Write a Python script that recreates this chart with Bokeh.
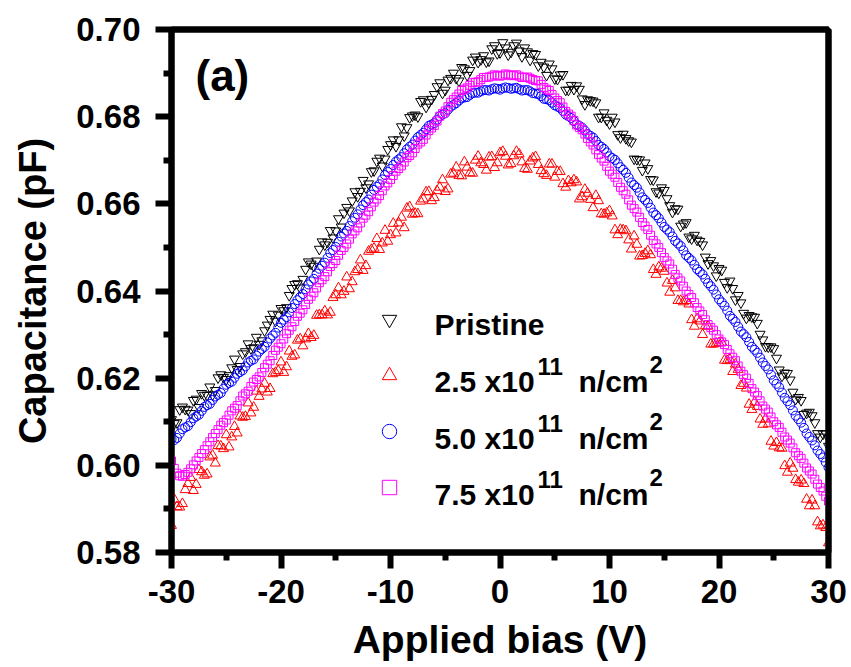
from bokeh.plotting import figure
from bokeh.models import (Range1d, Legend, LegendItem, Label, FixedTicker,
                          NumeralTickFormatter, LinearAxis)
from bokeh.embed import file_html
from bokeh.resources import INLINE

# ---------------- data ----------------
# bias sweep, first pass (every 0.5 V)
bias = [-30.0, -29.5, -29.0, -28.5, -28.0, -27.5, -27.0, -26.5, -26.0, -25.5,
        -25.0, -24.5, -24.0, -23.5, -23.0, -22.5, -22.0, -21.5, -21.0, -20.5,
        -20.0, -19.5, -19.0, -18.5, -18.0, -17.5, -17.0, -16.5, -16.0, -15.5,
        -15.0, -14.5, -14.0, -13.5, -13.0, -12.5, -12.0, -11.5, -11.0, -10.5,
        -10.0, -9.5, -9.0, -8.5, -8.0, -7.5, -7.0, -6.5, -6.0, -5.5,
        -5.0, -4.5, -4.0, -3.5, -3.0, -2.5, -2.0, -1.5, -1.0, -0.5,
        0.0, 0.5, 1.0, 1.5, 2.0, 2.5, 3.0, 3.5, 4.0, 4.5,
        5.0, 5.5, 6.0, 6.5, 7.0, 7.5, 8.0, 8.5, 9.0, 9.5,
        10.0, 10.5, 11.0, 11.5, 12.0, 12.5, 13.0, 13.5, 14.0, 14.5,
        15.0, 15.5, 16.0, 16.5, 17.0, 17.5, 18.0, 18.5, 19.0, 19.5,
        20.0, 20.5, 21.0, 21.5, 22.0, 22.5, 23.0, 23.5, 24.0, 24.5,
        25.0, 25.5, 26.0, 26.5, 27.0, 27.5, 28.0, 28.5, 29.0, 29.5, 30.0]

# bias sweep, in-between points
bias_mid = [-29.75, -29.25, -28.75, -28.25, -27.75, -27.25, -26.75, -26.25, -25.75, -25.25,
            -24.75, -24.25, -23.75, -23.25, -22.75, -22.25, -21.75, -21.25, -20.75, -20.25,
            -19.75, -19.25, -18.75, -18.25, -17.75, -17.25, -16.75, -16.25, -15.75, -15.25,
            -14.75, -14.25, -13.75, -13.25, -12.75, -12.25, -11.75, -11.25, -10.75, -10.25,
            -9.75, -9.25, -8.75, -8.25, -7.75, -7.25, -6.75, -6.25, -5.75, -5.25,
            -4.75, -4.25, -3.75, -3.25, -2.75, -2.25, -1.75, -1.25, -0.75, -0.25,
            0.25, 0.75, 1.25, 1.75, 2.25, 2.75, 3.25, 3.75, 4.25, 4.75,
            5.25, 5.75, 6.25, 6.75, 7.25, 7.75, 8.25, 8.75, 9.25, 9.75,
            10.25, 10.75, 11.25, 11.75, 12.25, 12.75, 13.25, 13.75, 14.25, 14.75,
            15.25, 15.75, 16.25, 16.75, 17.25, 17.75, 18.25, 18.75, 19.25, 19.75,
            20.25, 20.75, 21.25, 21.75, 22.25, 22.75, 23.25, 23.75, 24.25, 24.75,
            25.25, 25.75, 26.25, 26.75, 27.25, 27.75, 28.25, 28.75, 29.25, 29.75]

pristine = [0.6105, 0.6098, 0.6134, 0.6127, 0.6149, 0.6133, 0.6161, 0.6180, 0.6172, 0.6208,
            0.6197, 0.6224, 0.6220, 0.6256, 0.6279, 0.6270, 0.6278, 0.6309, 0.6335, 0.6331,
            0.6360, 0.6362, 0.6406, 0.6417, 0.6427, 0.6467, 0.6457, 0.6496, 0.6506, 0.6539,
            0.6538, 0.6547, 0.6592, 0.6607, 0.6617, 0.6654, 0.6646, 0.6676, 0.6705, 0.6703,
            0.6736, 0.6732, 0.6777, 0.6775, 0.6802, 0.6800, 0.6839, 0.6832, 0.6851, 0.6878,
            0.6861, 0.6888, 0.6888, 0.6913, 0.6895, 0.6930, 0.6925, 0.6940, 0.6928, 0.6963,
            0.6947, 0.6958, 0.6948, 0.6969, 0.6938, 0.6949, 0.6945, 0.6917, 0.6914, 0.6921,
            0.6887, 0.6896, 0.6861, 0.6872, 0.6871, 0.6841, 0.6839, 0.6836, 0.6799, 0.6809,
            0.6784, 0.6788, 0.6752, 0.6750, 0.6742, 0.6702, 0.6677, 0.6681, 0.6655, 0.6625,
            0.6631, 0.6596, 0.6589, 0.6549, 0.6557, 0.6520, 0.6517, 0.6506, 0.6463, 0.6458,
            0.6452, 0.6420, 0.6423, 0.6380, 0.6373, 0.6338, 0.6341, 0.6326, 0.6288, 0.6272,
            0.6268, 0.6219, 0.6212, 0.6196, 0.6152, 0.6149, 0.6120, 0.6114, 0.6073, 0.6072, 0.6044]

pristine_mid = [0.6096, 0.6128, 0.6129, 0.6119, 0.6152, 0.6165, 0.6161, 0.6162, 0.6201, 0.6202,
                0.6206, 0.6244, 0.6227, 0.6261, 0.6268, 0.6294, 0.6286, 0.6322, 0.6347, 0.6345,
                0.6355, 0.6390, 0.6415, 0.6407, 0.6450, 0.6462, 0.6469, 0.6513, 0.6512, 0.6522,
                0.6566, 0.6579, 0.6584, 0.6628, 0.6629, 0.6637, 0.6674, 0.6698, 0.6687, 0.6725,
                0.6747, 0.6747, 0.6756, 0.6798, 0.6804, 0.6835, 0.6822, 0.6840, 0.6869, 0.6854,
                0.6884, 0.6900, 0.6882, 0.6910, 0.6906, 0.6937, 0.6931, 0.6926, 0.6956, 0.6945,
                0.6970, 0.6942, 0.6963, 0.6951, 0.6958, 0.6930, 0.6943, 0.6925, 0.6895, 0.6910,
                0.6886, 0.6897, 0.6861, 0.6863, 0.6863, 0.6828, 0.6837, 0.6832, 0.6799, 0.6792,
                0.6799, 0.6759, 0.6760, 0.6745, 0.6703, 0.6701, 0.6694, 0.6656, 0.6628, 0.6637,
                0.6612, 0.6581, 0.6588, 0.6554, 0.6524, 0.6528, 0.6514, 0.6478, 0.6470, 0.6435,
                0.6448, 0.6408, 0.6406, 0.6390, 0.6349, 0.6344, 0.6340, 0.6301, 0.6273, 0.6272,
                0.6246, 0.6205, 0.6211, 0.6168, 0.6156, 0.6117, 0.6122, 0.6098, 0.6065, 0.6073]

flu_25 = [0.5862, 0.5905, 0.5912, 0.5958, 0.5942, 0.5990, 0.5977, 0.6019, 0.6005, 0.6044,
          0.6070, 0.6065, 0.6074, 0.6110, 0.6143, 0.6133, 0.6158, 0.6188, 0.6176, 0.6213,
          0.6237, 0.6226, 0.6250, 0.6287, 0.6274, 0.6302, 0.6298, 0.6345, 0.6354, 0.6351,
          0.6391, 0.6391, 0.6432, 0.6421, 0.6449, 0.6447, 0.6491, 0.6498, 0.6495, 0.6539,
          0.6529, 0.6533, 0.6569, 0.6590, 0.6576, 0.6577, 0.6611, 0.6628, 0.6614, 0.6638,
          0.6628, 0.6668, 0.6684, 0.6664, 0.6684, 0.6670, 0.6709, 0.6690, 0.6707, 0.6683,
          0.6717, 0.6709, 0.6692, 0.6720, 0.6696, 0.6679, 0.6705, 0.6690, 0.6669, 0.6691,
          0.6661, 0.6674, 0.6638, 0.6648, 0.6650, 0.6616, 0.6624, 0.6591, 0.6607, 0.6576,
          0.6584, 0.6540, 0.6541, 0.6538, 0.6496, 0.6507, 0.6481, 0.6492, 0.6449, 0.6455,
          0.6445, 0.6397, 0.6407, 0.6378, 0.6378, 0.6334, 0.6336, 0.6300, 0.6319, 0.6278,
          0.6281, 0.6241, 0.6243, 0.6232, 0.6183, 0.6177, 0.6128, 0.6135, 0.6094, 0.6095,
          0.6044, 0.6040, 0.5999, 0.6005, 0.5967, 0.5966, 0.5922, 0.5920, 0.5870, 0.5863, 0.5822]

flu_25_mid = [0.5922, 0.5904, 0.5944, 0.5972, 0.5956, 0.5985, 0.5980, 0.6023, 0.6045, 0.6038,
              0.6042, 0.6089, 0.6113, 0.6112, 0.6120, 0.6170, 0.6175, 0.6168, 0.6210, 0.6217,
              0.6213, 0.6262, 0.6253, 0.6290, 0.6290, 0.6293, 0.6344, 0.6345, 0.6345, 0.6385,
              0.6407, 0.6399, 0.6405, 0.6444, 0.6471, 0.6458, 0.6495, 0.6520, 0.6510, 0.6514,
              0.6555, 0.6556, 0.6545, 0.6593, 0.6578, 0.6606, 0.6627, 0.6607, 0.6630, 0.6655,
              0.6634, 0.6670, 0.6665, 0.6696, 0.6671, 0.6700, 0.6694, 0.6677, 0.6708, 0.6694,
              0.6720, 0.6689, 0.6710, 0.6714, 0.6681, 0.6698, 0.6708, 0.6676, 0.6665, 0.6691,
              0.6674, 0.6646, 0.6653, 0.6655, 0.6611, 0.6633, 0.6610, 0.6619, 0.6577, 0.6579,
              0.6572, 0.6529, 0.6540, 0.6517, 0.6526, 0.6480, 0.6486, 0.6483, 0.6438, 0.6452,
              0.6418, 0.6424, 0.6378, 0.6375, 0.6370, 0.6319, 0.6331, 0.6320, 0.6278, 0.6280,
              0.6282, 0.6240, 0.6215, 0.6220, 0.6188, 0.6140, 0.6145, 0.6106, 0.6106, 0.6055,
              0.6052, 0.6039, 0.5984, 0.5993, 0.5961, 0.5958, 0.5907, 0.5907, 0.5861, 0.5857]

flu_50 = [0.6060, 0.6063, 0.6083, 0.6090, 0.6108, 0.6116, 0.6134, 0.6141, 0.6158, 0.6166,
          0.6185, 0.6192, 0.6210, 0.6218, 0.6236, 0.6243, 0.6261, 0.6272, 0.6291, 0.6304,
          0.6327, 0.6340, 0.6361, 0.6379, 0.6393, 0.6415, 0.6428, 0.6451, 0.6465, 0.6487,
          0.6501, 0.6525, 0.6538, 0.6560, 0.6576, 0.6597, 0.6610, 0.6632, 0.6645, 0.6666,
          0.6680, 0.6697, 0.6707, 0.6725, 0.6736, 0.6753, 0.6763, 0.6779, 0.6785, 0.6801,
          0.6808, 0.6823, 0.6831, 0.6842, 0.6845, 0.6854, 0.6855, 0.6861, 0.6860, 0.6865,
          0.6862, 0.6867, 0.6864, 0.6866, 0.6860, 0.6861, 0.6854, 0.6852, 0.6841, 0.6838,
          0.6826, 0.6820, 0.6805, 0.6797, 0.6782, 0.6775, 0.6760, 0.6752, 0.6735, 0.6726,
          0.6709, 0.6701, 0.6684, 0.6671, 0.6649, 0.6637, 0.6615, 0.6602, 0.6580, 0.6567,
          0.6547, 0.6535, 0.6515, 0.6503, 0.6482, 0.6470, 0.6450, 0.6438, 0.6418, 0.6403,
          0.6381, 0.6366, 0.6343, 0.6329, 0.6307, 0.6294, 0.6272, 0.6258, 0.6236, 0.6220,
          0.6195, 0.6179, 0.6155, 0.6138, 0.6114, 0.6098, 0.6073, 0.6057, 0.6034, 0.6018, 0.5995]

flu_50_mid = [0.6058, 0.6073, 0.6087, 0.6099, 0.6112, 0.6125, 0.6138, 0.6150, 0.6162, 0.6176,
              0.6189, 0.6201, 0.6214, 0.6227, 0.6240, 0.6252, 0.6267, 0.6282, 0.6298, 0.6316,
              0.6334, 0.6351, 0.6370, 0.6386, 0.6404, 0.6422, 0.6440, 0.6458, 0.6476, 0.6494,
              0.6513, 0.6532, 0.6549, 0.6568, 0.6587, 0.6604, 0.6621, 0.6639, 0.6656, 0.6673,
              0.6689, 0.6702, 0.6716, 0.6731, 0.6745, 0.6758, 0.6771, 0.6782, 0.6793, 0.6805,
              0.6816, 0.6827, 0.6837, 0.6844, 0.6850, 0.6855, 0.6858, 0.6861, 0.6863, 0.6864,
              0.6865, 0.6866, 0.6865, 0.6863, 0.6861, 0.6858, 0.6853, 0.6847, 0.6840, 0.6832,
              0.6823, 0.6813, 0.6801, 0.6790, 0.6779, 0.6768, 0.6756, 0.6744, 0.6731, 0.6718,
              0.6705, 0.6693, 0.6678, 0.6660, 0.6643, 0.6626, 0.6609, 0.6591, 0.6574, 0.6557,
              0.6541, 0.6525, 0.6509, 0.6493, 0.6476, 0.6460, 0.6444, 0.6428, 0.6411, 0.6392,
              0.6374, 0.6355, 0.6336, 0.6318, 0.6301, 0.6283, 0.6265, 0.6247, 0.6228, 0.6208,
              0.6187, 0.6167, 0.6147, 0.6126, 0.6106, 0.6086, 0.6065, 0.6046, 0.6026, 0.6007]

flu_75 = [0.6010, 0.5982, 0.5975, 0.5984, 0.6001, 0.6018, 0.6036, 0.6054, 0.6073, 0.6092,
          0.6104, 0.6125, 0.6137, 0.6159, 0.6170, 0.6191, 0.6203, 0.6224, 0.6240, 0.6264,
          0.6279, 0.6302, 0.6318, 0.6342, 0.6357, 0.6381, 0.6396, 0.6419, 0.6433, 0.6456,
          0.6470, 0.6493, 0.6508, 0.6531, 0.6545, 0.6567, 0.6582, 0.6604, 0.6619, 0.6641,
          0.6656, 0.6675, 0.6687, 0.6706, 0.6717, 0.6737, 0.6748, 0.6768, 0.6780, 0.6801,
          0.6813, 0.6833, 0.6845, 0.6860, 0.6866, 0.6878, 0.6880, 0.6890, 0.6891, 0.6896,
          0.6893, 0.6898, 0.6894, 0.6896, 0.6890, 0.6891, 0.6885, 0.6882, 0.6867, 0.6860,
          0.6843, 0.6832, 0.6812, 0.6801, 0.6781, 0.6770, 0.6750, 0.6735, 0.6713, 0.6698,
          0.6675, 0.6661, 0.6638, 0.6622, 0.6597, 0.6581, 0.6557, 0.6541, 0.6516, 0.6500,
          0.6477, 0.6462, 0.6438, 0.6423, 0.6400, 0.6385, 0.6362, 0.6346, 0.6323, 0.6310,
          0.6290, 0.6277, 0.6256, 0.6240, 0.6216, 0.6200, 0.6176, 0.6160, 0.6136, 0.6122,
          0.6100, 0.6087, 0.6065, 0.6051, 0.6029, 0.6016, 0.5994, 0.5980, 0.5957, 0.5941, 0.5918]

flu_75_mid = [0.5993, 0.5976, 0.5979, 0.5992, 0.6010, 0.6027, 0.6045, 0.6064, 0.6082, 0.6098,
              0.6115, 0.6131, 0.6148, 0.6164, 0.6181, 0.6197, 0.6213, 0.6232, 0.6252, 0.6271,
              0.6290, 0.6310, 0.6330, 0.6349, 0.6369, 0.6388, 0.6407, 0.6426, 0.6444, 0.6463,
              0.6482, 0.6500, 0.6519, 0.6538, 0.6556, 0.6574, 0.6593, 0.6611, 0.6630, 0.6648,
              0.6665, 0.6681, 0.6696, 0.6711, 0.6727, 0.6742, 0.6758, 0.6774, 0.6790, 0.6807,
              0.6823, 0.6839, 0.6852, 0.6863, 0.6872, 0.6879, 0.6885, 0.6890, 0.6893, 0.6894,
              0.6895, 0.6896, 0.6895, 0.6893, 0.6890, 0.6888, 0.6883, 0.6874, 0.6863, 0.6851,
              0.6837, 0.6822, 0.6806, 0.6791, 0.6775, 0.6760, 0.6742, 0.6724, 0.6705, 0.6686,
              0.6668, 0.6649, 0.6630, 0.6609, 0.6589, 0.6569, 0.6549, 0.6528, 0.6508, 0.6488,
              0.6469, 0.6450, 0.6430, 0.6411, 0.6392, 0.6373, 0.6354, 0.6334, 0.6316, 0.6300,
              0.6283, 0.6266, 0.6248, 0.6228, 0.6208, 0.6188, 0.6168, 0.6148, 0.6129, 0.6111,
              0.6093, 0.6076, 0.6058, 0.6040, 0.6022, 0.6005, 0.5987, 0.5968, 0.5949, 0.5929]

x_major_ticks = [-30, -20, -10, 0, 10, 20, 30]
x_minor_ticks = [-25, -15, -5, 5, 15, 25]
y_major_ticks = [0.58, 0.60, 0.62, 0.64, 0.66, 0.68, 0.70]
y_minor_ticks = [0.59, 0.61, 0.63, 0.65, 0.67, 0.69]

series_labels = ["Pristine", "2.5 x10", "5.0 x10", "7.5 x10"]

FONT = "Liberation Sans"
LW = 6

# ---------------- figure ----------------
p = figure(width=851, height=667, output_backend="svg", toolbar_location=None,
           x_range=Range1d(-30, 30), y_range=Range1d(0.58, 0.70),
           min_border_left=171, min_border_right=23, min_border_top=29, min_border_bottom=115)
p.background_fill_color = "white"
p.border_fill_color = "white"
p.outline_line_color = "black"
p.outline_line_width = LW
p.xgrid.visible = False
p.ygrid.visible = False

p.xaxis.ticker = FixedTicker(ticks=x_major_ticks, minor_ticks=x_minor_ticks)
p.yaxis.ticker = FixedTicker(ticks=y_major_ticks, minor_ticks=y_minor_ticks)
p.xaxis.formatter = NumeralTickFormatter(format="0")
p.yaxis.formatter = NumeralTickFormatter(format="0.00")
for ax in (p.xaxis[0], p.yaxis[0]):
    ax.axis_line_width = LW
    ax.axis_line_color = "black"
    ax.major_tick_in = 0
    ax.major_tick_out = 16
    ax.major_tick_line_width = LW
    ax.minor_tick_in = 0
    ax.minor_tick_out = 8
    ax.minor_tick_line_width = LW
    ax.major_label_text_font = FONT
    ax.major_label_text_font_style = "bold"
    ax.major_label_text_font_size = "33px"
    ax.major_label_text_color = "black"
    ax.axis_label_text_font = FONT
    ax.axis_label_text_font_style = "bold"
    ax.axis_label_text_color = "black"
p.xaxis.axis_label = "Applied bias (V)"
p.yaxis.axis_label = "Capacitance (pF)"
p.xaxis.axis_label_text_font_size = "39px"
p.yaxis.axis_label_text_font_size = "38px"
p.xaxis.major_label_standoff = 11
p.yaxis.major_label_standoff = 15
p.xaxis.axis_label_standoff = 12
p.yaxis.axis_label_standoff = 19

# plain frame lines on top and right
for side in ("above", "right"):
    fr = LinearAxis(ticker=FixedTicker(ticks=[]), major_label_text_font_size="0px",
                    axis_line_width=LW, axis_line_color="black",
                    major_tick_line_color=None, minor_tick_line_color=None)
    p.add_layout(fr, side)

all_bias = bias + bias_mid
r_pr = p.scatter(all_bias, pristine + pristine_mid, marker="inverted_triangle", size=10,
                 fill_color=None, line_color="black", line_width=1)
r_25 = p.scatter(all_bias, flu_25 + flu_25_mid, marker="triangle", size=10,
                 fill_color=None, line_color="#FF0000", line_width=1)
r_50 = p.scatter(all_bias, flu_50 + flu_50_mid, marker="circle", size=9,
                 fill_color=None, line_color="#0000FF", line_width=1)
r_75 = p.scatter(all_bias, flu_75 + flu_75_mid, marker="square", size=8,
                 fill_color=None, line_color="#FF00FF", line_width=1)

legend = Legend(items=[LegendItem(label=" ", renderers=[r]) for r in (r_pr, r_25, r_50, r_75)],
                location=(200, 47), glyph_width=36, glyph_height=36, label_height=36,
                label_width=1, label_standoff=0, label_text_font_size="1px",
                spacing=20, padding=0, margin=0, border_line_alpha=0,
                background_fill_alpha=0)
p.add_layout(legend, "center")

def lab(text, x, y, size):
    return Label(x=x, y=y, x_units="screen", y_units="screen", text=text,
                 text_font=FONT, text_font_style="bold", text_font_size=size,
                 text_color="black", text_baseline="alphabetic", text_align="left")

rows_y = [228, 171, 114, 58]
p.add_layout(lab(series_labels[0], 263, rows_y[0], "30px"))
for txt, yb in zip(series_labels[1:], rows_y[1:]):
    p.add_layout(lab(txt, 263, yb, "30px"))
    p.add_layout(lab("11", 366, yb + 15, "24px"))
    p.add_layout(lab("n/cm", 407, yb, "30px"))
    p.add_layout(lab("2", 478, yb + 17, "24px"))

p.add_layout(lab("(a)", 24, 477, "44px"))

open("out.html", "w").write(file_html(p, INLINE))
